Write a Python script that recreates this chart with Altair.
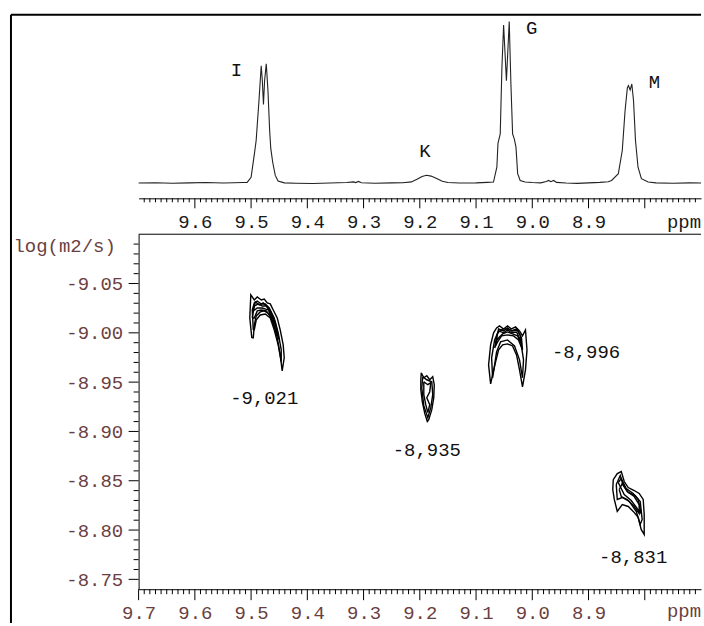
import altair as alt
import pandas as pd

BROWN = "#6b3f3f"
FONT = "Liberation Mono"

# ---------------- 1D spectrum (ppm, intensity) ----------------
SPEC_PPM = [9.70, 9.67, 9.64, 9.61, 9.58, 9.55, 9.53, 9.515, 9.507, 9.500, 9.497, 9.494, 9.491,
            9.486, 9.482, 9.480, 9.478, 9.476, 9.473, 9.470, 9.467, 9.465, 9.4615, 9.457, 9.452,
            9.441, 9.42, 9.39, 9.36, 9.33, 9.318, 9.314, 9.309, 9.304, 9.28, 9.25,
            9.23, 9.215, 9.205, 9.196, 9.188, 9.18, 9.17, 9.16, 9.15, 9.13, 9.10, 9.08,
            9.069, 9.063, 9.061, 9.057, 9.054, 9.051, 9.046, 9.041, 9.038, 9.035, 9.032, 9.029,
            9.026, 9.0215, 9.013, 9.00, 8.985, 8.975, 8.971, 8.967, 8.962, 8.957, 8.94, 8.92,
            8.90, 8.88, 8.865, 8.859, 8.847, 8.840, 8.835, 8.831, 8.829, 8.826, 8.823, 8.820,
            8.8165, 8.812, 8.806, 8.794, 8.78, 8.75, 8.72, 8.70]
SPEC_INT = [0.2, 0.4, 0.1, 0.3, 0.5, 0.2, 0.4, 0.5, 0.6, 3.7, 11.1, 18.5, 26.5,
            51.1, 72.7, 63.4, 48.7, 63.4, 73.9, 57.3, 32.6, 21.6, 12.9, 4.9, 1.5,
            0.3, 0.1, -0.1, 0.2, 0.5, 0.9, 0.5, 1.2, 0.4, 0.1, 0.3,
            0.4, 0.9, 2.5, 4.3, 5.0, 4.5, 3.0, 1.3, 0.5, 0.2, 0.3, 0.6,
            0.8, 10.0, 24.8, 30.6, 71.6, 97.9, 63.4, 100.0, 61.4, 30.6, 27.5, 22.4,
            6.0, 1.8, 0.8, 0.5, 0.3, 1.2, 1.8, 1.0, 1.8, 0.6, 0.2, 0.0,
            0.3, 0.6, 1.0, 1.8, 6.0, 20.3, 45.0, 59.0, 60.4, 57.7, 61.4, 51.1,
            26.5, 10.0, 2.9, 0.8, 0.3, 0.1, 0.3, 0.2]

PEAK_NAMES = ["I", "K", "G", "M"]
PEAK_LABEL_PPM = [9.526, 9.191, 9.001, 8.783]
PEAK_LABEL_INT = [70.2, 19.7, 96.1, 62.8]

# ---------------- DOSY contours (ppm, log D) ----------------
CONTOUR_I_1 = [(9.4987, -8.9949), (9.5023, -9.0151), (9.5005, -9.0384), (9.4943, -9.0333), (9.4890, -9.0363),
               (9.4819, -9.0333), (9.4766, -9.0343), (9.4713, -9.0303), (9.4659, -9.0293), (9.4606, -9.0232),
               (9.4535, -9.0151), (9.4482, -9.0030), (9.4429, -8.9878), (9.4411, -8.9747), (9.4447, -8.9615),
               (9.4482, -8.9777), (9.4535, -8.9949), (9.4606, -9.0100), (9.4677, -9.0191), (9.4766, -9.0222),
               (9.4837, -9.0212), (9.4908, -9.0171), (9.4943, -9.0080), (9.4961, -8.9949)]
CONTOUR_I_2 = [(9.4961, -9.0030), (9.4979, -9.0232), (9.4943, -9.0303), (9.4890, -9.0323), (9.4819, -9.0293),
               (9.4748, -9.0293), (9.4677, -9.0252), (9.4589, -9.0151), (9.4518, -8.9999), (9.4464, -8.9828),
               (9.4464, -8.9706), (9.4518, -8.9878), (9.4589, -9.0030), (9.4659, -9.0151), (9.4748, -9.0191),
               (9.4837, -9.0181), (9.4908, -9.0131), (9.4943, -9.0030)]
CONTOUR_I_3 = [(9.4979, -9.0151), (9.4943, -9.0272), (9.4872, -9.0293), (9.4801, -9.0272), (9.4730, -9.0272),
               (9.4659, -9.0222), (9.4571, -9.0111), (9.4500, -8.9929), (9.4553, -9.0010), (9.4642, -9.0151),
               (9.4730, -9.0222), (9.4819, -9.0232), (9.4890, -9.0222), (9.4943, -9.0151)]
CONTOUR_I_4 = [(9.4961, -9.0222), (9.4925, -9.0313), (9.4855, -9.0283), (9.4784, -9.0303), (9.4713, -9.0262),
               (9.4624, -9.0171), (9.4553, -9.0050), (9.4606, -9.0131), (9.4695, -9.0232), (9.4802, -9.0252),
               (9.4890, -9.0252)]

CONTOUR_K_1 = [(9.1974, -8.9595), (9.1929, -8.9544), (9.1876, -8.9565), (9.1823, -8.9524), (9.1770, -8.9555),
               (9.1743, -8.9474), (9.1752, -8.9342), (9.1787, -8.9221), (9.1841, -8.9120), (9.1867, -8.9100),
               (9.1911, -8.9180), (9.1956, -8.9302), (9.1982, -8.9423), (9.1982, -8.9524)]
CONTOUR_K_2 = [(9.1929, -8.9504), (9.1858, -8.9474), (9.1805, -8.9494), (9.1823, -8.9403), (9.1876, -8.9342),
               (9.1823, -8.9271), (9.1858, -8.9191), (9.1894, -8.9271), (9.1929, -8.9373)]
CONTOUR_K_3 = [(9.1947, -8.9555), (9.1876, -8.9524), (9.1787, -8.9504), (9.1770, -8.9373), (9.1805, -8.9241),
               (9.1858, -8.9140), (9.1929, -8.9261), (9.1965, -8.9443)]

CONTOUR_G_1 = [(9.0741, -8.9483), (9.0777, -8.9675), (9.0741, -8.9878), (9.0688, -9.0000), (9.0635, -9.0049),
               (9.0582, -9.0070), (9.0511, -9.0039), (9.0440, -9.0070), (9.0369, -9.0039), (9.0298, -9.0060),
               (9.0227, -9.0019), (9.0174, -8.9969), (9.0121, -9.0029), (9.0094, -8.9827), (9.0121, -8.9625),
               (9.0174, -8.9453), (9.0227, -8.9625), (9.0280, -8.9776), (9.0351, -8.9867), (9.0440, -8.9888),
               (9.0528, -8.9878), (9.0599, -8.9827), (9.0652, -8.9706), (9.0706, -8.9574)]
CONTOUR_G_2 = [(9.0706, -8.9544), (9.0723, -8.9746), (9.0670, -8.9928), (9.0599, -9.0019), (9.0511, -9.0000),
               (9.0440, -9.0029), (9.0369, -9.0000), (9.0280, -9.0009), (9.0209, -8.9928), (9.0156, -8.9726),
               (9.0174, -8.9544), (9.0227, -8.9726), (9.0316, -8.9867), (9.0440, -8.9928), (9.0564, -8.9908),
               (9.0635, -8.9807), (9.0670, -8.9675)]
CONTOUR_G_3 = [(9.0670, -8.9847), (9.0617, -9.0000), (9.0528, -9.0039), (9.0440, -9.0039), (9.0351, -9.0019),
               (9.0262, -9.0029), (9.0192, -8.9948), (9.0174, -8.9827), (9.0245, -8.9928), (9.0333, -8.9969),
               (9.0440, -8.9979), (9.0546, -8.9969), (9.0617, -8.9908)]
CONTOUR_G_4 = [(9.0652, -8.9898), (9.0599, -9.0040), (9.0511, -9.0019), (9.0440, -9.0050), (9.0369, -9.0019),
               (9.0280, -9.0040), (9.0209, -8.9969), (9.0192, -8.9888), (9.0262, -8.9969), (9.0351, -8.9989),
               (9.0440, -9.0009), (9.0528, -8.9989), (9.0617, -8.9938)]

CONTOUR_M_1 = [(8.8560, -8.8512), (8.8489, -8.8573), (8.8418, -8.8593), (8.8365, -8.8492), (8.8294, -8.8431),
               (8.8188, -8.8401), (8.8099, -8.8371), (8.8028, -8.8310), (8.8010, -8.8158), (8.8010, -8.7956),
               (8.8064, -8.8007), (8.8117, -8.8128), (8.8205, -8.8189), (8.8294, -8.8239), (8.8400, -8.8259),
               (8.8489, -8.8189), (8.8542, -8.8310), (8.8569, -8.8411)]
CONTOUR_M_2 = [(8.8507, -8.8462), (8.8436, -8.8553), (8.8383, -8.8452), (8.8294, -8.8381), (8.8170, -8.8350),
               (8.8081, -8.8290), (8.8046, -8.8108), (8.8081, -8.8057), (8.8152, -8.8189), (8.8276, -8.8290),
               (8.8400, -8.8330), (8.8489, -8.8310)]
CONTOUR_M_3 = [(8.8454, -8.8411), (8.8400, -8.8472), (8.8312, -8.8391), (8.8188, -8.8340), (8.8099, -8.8259),
               (8.8099, -8.8168), (8.8188, -8.8239), (8.8312, -8.8310), (8.8418, -8.8340)]
CONTOUR_M_4 = [(8.8472, -8.8482), (8.8418, -8.8523), (8.8330, -8.8421), (8.8206, -8.8371), (8.8117, -8.8310),
               (8.8064, -8.8168), (8.8135, -8.8219), (8.8241, -8.8300), (8.8365, -8.8360)]

DIFF_TEXT = ["-9,021", "-8,935", "-8,996", "-8,831"]
DIFF_LABEL_PPM = [9.4766, 9.1876, 8.9044, 8.8206]
DIFF_LABEL_LOGD = [-8.9342, -8.8816, -8.9810, -8.7724]

# ---------------- ticks ----------------
X_MAJOR_TOP = [9.6, 9.5, 9.4, 9.3, 9.2, 9.1, 9.0, 8.9, 8.8]
X_MAJOR_BOT = [9.7, 9.6, 9.5, 9.4, 9.3, 9.2, 9.1, 9.0, 8.9, 8.8]
X_MINOR = [round(9.69 - 0.01 * k, 2) for k in range(99) if (k + 1) % 10 != 0]
Y_MAJOR = [-9.05, -9.00, -8.95, -8.90, -8.85, -8.80, -8.75]
Y_MINOR = [round(-9.09 + 0.01 * k, 2) for k in range(35) if k % 5 != 4]

# ---------------- data frames ----------------
spec_df = pd.DataFrame({"ppm": SPEC_PPM, "intensity": SPEC_INT, "i": list(range(len(SPEC_PPM)))})
peak_df = pd.DataFrame({"ppm": PEAK_LABEL_PPM, "intensity": PEAK_LABEL_INT, "t": PEAK_NAMES})

contours = {"I1": CONTOUR_I_1, "I2": CONTOUR_I_2, "I3": CONTOUR_I_3, "I4": CONTOUR_I_4,
            "K1": CONTOUR_K_1, "K2": CONTOUR_K_2, "K3": CONTOUR_K_3,
            "G1": CONTOUR_G_1, "G2": CONTOUR_G_2, "G3": CONTOUR_G_3, "G4": CONTOUR_G_4,
            "M1": CONTOUR_M_1, "M2": CONTOUR_M_2, "M3": CONTOUR_M_3, "M4": CONTOUR_M_4}
rows = []
for name, pts in contours.items():
    closed = pts + [pts[0]]
    for k, (p, d) in enumerate(closed):
        rows.append({"ppm": p, "logd": d, "loop": name, "i": k})
cont_df = pd.DataFrame(rows)
diff_df = pd.DataFrame({"ppm": DIFF_LABEL_PPM, "logd": DIFF_LABEL_LOGD, "t": DIFF_TEXT})
one = pd.DataFrame({"a": [0]})
ppm_df = pd.DataFrame({"t": ["ppm"]})

W = 564
H_TOP = 184
H_BOT = 356

x_scale = alt.Scale(domain=[8.7, 9.7], reverse=True, nice=False, zero=False)

top_axis = alt.Axis(
    values=X_MAJOR_TOP, orient="bottom", grid=False,
    tickSize=10, tickOpacity=0, domainColor="black",
    labelExpr="datum.value > 8.85 ? format(datum.value, '.1f') : ''",
    labelFont=FONT, labelFontSize=19, labelColor="#1a1a1a", labelPadding=4,
    labelOverlap=False, labelFlush=False, labelBound=False, title=None)

bot_axis = alt.Axis(
    values=X_MAJOR_BOT, orient="bottom", grid=False,
    tickSize=10, tickOpacity=0, domainColor="black",
    labelExpr="datum.value > 8.85 ? format(datum.value, '.1f') : ''",
    labelFont=FONT, labelFontSize=19, labelColor=BROWN, labelPadding=4,
    labelOverlap=False, labelFlush=False, labelBound=False, title=None)

y_axis = alt.Axis(
    values=Y_MAJOR, orient="left", grid=False,
    tickSize=10, tickOpacity=0, domainColor="black",
    labelExpr="'-' + format(abs(datum.value), '.2f')",
    labelFont=FONT, labelFontSize=19, labelColor=BROWN, labelPadding=6,
    labelOverlap=False, labelFlush=False, labelBound=False,
    title="log(m2/s)", titleAngle=0, titleAlign="left", titleBaseline="middle",
    titleX=-126, titleY=11, titleFont=FONT, titleFontSize=19, titleFontWeight="normal",
    titleColor=BROWN)

# ---------- top panel: 1D spectrum ----------
x_top = alt.X("ppm:Q", scale=x_scale, axis=top_axis, title=None)
y_top = alt.Y("intensity:Q", scale=alt.Scale(domain=[-9.24, 104.13], nice=False, zero=False), axis=None)

spectrum = alt.Chart(spec_df).mark_line(color="#222222", strokeWidth=1.1).encode(
    x=x_top, y=y_top, order="i:Q")
peak_labels = alt.Chart(peak_df).mark_text(font=FONT, fontSize=19, color="#111111",
                                           align="center", baseline="middle").encode(
    x=x_top, y=y_top, text="t:N")
top_major = alt.Chart(pd.DataFrame({"ppm": X_MAJOR_TOP})).mark_rule(color="black", strokeWidth=1).encode(
    x=x_top, y=alt.value(H_TOP), y2=alt.value(H_TOP + 10))
top_minor = alt.Chart(pd.DataFrame({"ppm": X_MINOR})).mark_rule(color="black", strokeWidth=1).encode(
    x=x_top, y=alt.value(H_TOP), y2=alt.value(H_TOP + 4))
frame_top = alt.Chart(one).mark_rule(color="black", strokeWidth=2).encode(
    x=alt.value(-128), x2=alt.value(W), y=alt.value(0))
frame_left = alt.Chart(one).mark_rule(color="black", strokeWidth=2).encode(
    x=alt.value(-128), y=alt.value(0), y2=alt.value(610))
ppm_top = alt.Chart(ppm_df).mark_text(font=FONT, fontSize=19, color="#1a1a1a",
                                      align="center", baseline="middle").encode(
    text="t:N", x=alt.value(547), y=alt.value(208))

top = alt.layer(spectrum, peak_labels, top_major, top_minor, frame_top, frame_left, ppm_top).properties(
    width=W, height=H_TOP)

# ---------- bottom panel: DOSY contours ----------
x_bot = alt.X("ppm:Q", scale=x_scale, axis=bot_axis, title=None)
y_scale = alt.Scale(domain=[-9.10, -8.74], reverse=True, nice=False, zero=False)
y_bot = alt.Y("logd:Q", scale=y_scale, axis=y_axis)

cont = alt.Chart(cont_df).mark_line(color="black", strokeWidth=1.4).encode(
    x=x_bot, y=y_bot, detail="loop:N", order="i:Q")
diff_labels = alt.Chart(diff_df).mark_text(font=FONT, fontSize=19, color="#111111",
                                           align="center", baseline="middle").encode(
    x=x_bot, y=y_bot, text="t:N")
bot_major = alt.Chart(pd.DataFrame({"ppm": X_MAJOR_BOT})).mark_rule(color="black", strokeWidth=1).encode(
    x=x_bot, y=alt.value(H_BOT), y2=alt.value(H_BOT + 11))
bot_minor = alt.Chart(pd.DataFrame({"ppm": X_MINOR})).mark_rule(color="black", strokeWidth=1).encode(
    x=x_bot, y=alt.value(H_BOT), y2=alt.value(H_BOT + 5))
y_major = alt.Chart(pd.DataFrame({"logd": Y_MAJOR})).mark_rule(color="black", strokeWidth=1).encode(
    y=y_bot, x=alt.value(0), x2=alt.value(-10))
y_minor = alt.Chart(pd.DataFrame({"logd": Y_MINOR})).mark_rule(color="black", strokeWidth=1).encode(
    y=y_bot, x=alt.value(0), x2=alt.value(-5))
plot_top_border = alt.Chart(one).mark_rule(color="black", strokeWidth=1).encode(
    x=alt.value(0), x2=alt.value(W), y=alt.value(0))
ppm_bot = alt.Chart(ppm_df).mark_text(font=FONT, fontSize=19, color=BROWN,
                                      align="center", baseline="middle").encode(
    text="t:N", x=alt.value(547), y=alt.value(378))

bottom = alt.layer(cont, diff_labels, bot_major, bot_minor, y_major, y_minor,
                   plot_top_border, ppm_bot).properties(width=W, height=H_BOT)

chart = alt.vconcat(top, bottom, spacing=36, bounds="flush").properties(
    padding={"left": 10, "top": 13, "right": 0, "bottom": 0},
    background="white",
).configure_view(strokeWidth=0)

chart.save("out.html", embed_options={"renderer": "svg", "actions": False})
